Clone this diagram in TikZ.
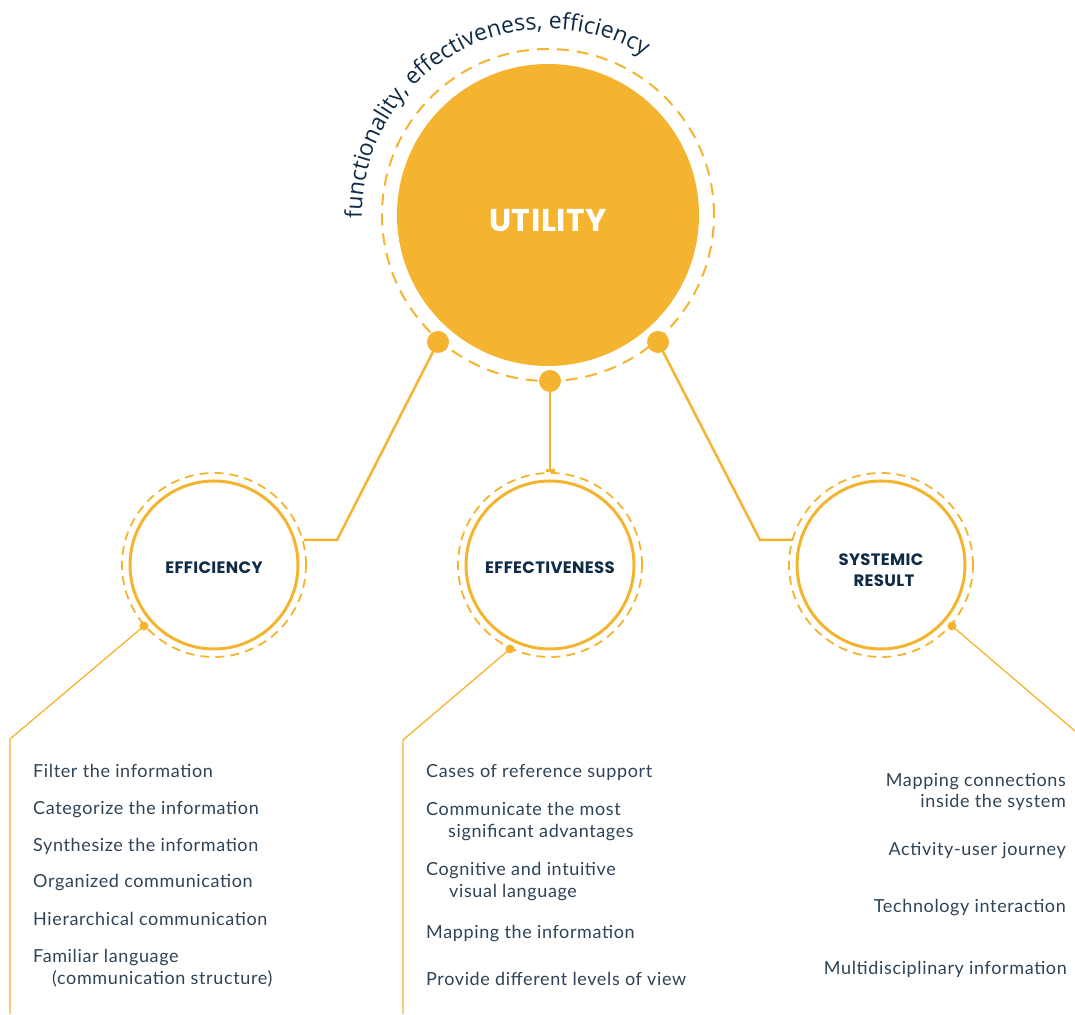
\documentclass[tikz,border=0pt]{standalone}
\usepackage{fontspec}
\setmainfont{Lato}
\newfontfamily\itemfont{Lato}[LetterSpace=3.5]
\newfontfamily\labelfont{Poppins}[LetterSpace=2]
\newfontfamily\arcfont{Open Sans}
\usetikzlibrary{decorations.text,arrows.meta}
\definecolor{gold}{HTML}{F5B430}
\definecolor{navy}{HTML}{0F2B45}
\definecolor{listc}{HTML}{2D4357}
\begin{document}
\begin{tikzpicture}[x=1pt,y=1pt,
  ring/.style={draw=gold,line width=2pt,dash pattern=on 12pt off 8pt},
  smallring/.style={draw=gold,line width=1.8pt,dash pattern=on 9pt off 6pt},
  topic/.style={circle,draw=gold,line width=3pt,minimum size=168pt,inner sep=0pt},
  topictext/.style={font=\labelfont\bfseries\fontsize{16.5}{21}\selectfont,text=navy,inner sep=0pt,anchor=base},
  bigdot/.style={circle,fill=gold,minimum size=22pt,inner sep=0pt},
  smalldot/.style={circle,fill=gold,minimum size=9pt,inner sep=0pt},
  link/.style={draw=gold,line width=2.5pt},
  leader/.style={draw=gold,line width=1.3pt},
  item/.style={font=\itemfont\fontsize{18}{21}\selectfont,text=listc,inner sep=0pt}
]
\useasboundingbox (0,0) rectangle (1075,1014);

% central circle
\node[circle,fill=gold,minimum size=302pt,inner sep=0pt] (util) at (548,799) {};
\node[font=\labelfont\bfseries\fontsize{31.5}{31.5}\selectfont,text=white,inner sep=0pt,anchor=base] (utiltxt) at (548,782) {UTILITY};
\draw[ring] (util.center) circle[radius=166];

% arc text
\path[decorate,decoration={text along path,text align=left,
  text={|\arcfont\fontsize{23}{23}\selectfont\color{navy}|functionality, effectiveness, efficiency}}]
  (util.center) ++(181:186) arc[start angle=181,end angle=5,radius=186];

% connector dots
\node[bigdot] (d1) at (438,672) {};
\node[bigdot] (d2) at (550,633) {};
\node[bigdot] (d3) at (658,672) {};

% topic circles
\node[topic] (effi) at (214,449) {};
\node[topic] (effe) at (550,449) {};
\node[topic] (syst) at (881,449) {};
\draw[smallring] (effi.center) circle[radius=92];
\draw[smallring] (effe.center) circle[radius=92];
\draw[smallring] (syst.center) circle[radius=92];
\node[topictext] (effit) at (214,440) {EFFICIENCY};
\node[topictext] (effet) at (550,440) {EFFECTIVENESS};
\node[topictext] (syst1) at (881,448) {SYSTEMIC};
\node[topictext] (syst2) at (884,427) {RESULT};

% main links
\coordinate (c1) at (337,474);
\coordinate (c1e) at (304,474);
\coordinate (t2) at (550,542);
\coordinate (c3) at (760,474);
\coordinate (c3e) at (793,474);
\draw[link] (d1.center) -- (c1) -- (c1e);
\draw[link,-{Bar[width=9pt]}] (d2.center) -- (t2);
\draw[link] (d3.center) -- (c3) -- (c3e);

% small dots and leaders
\node[smalldot] (s1) at (144,388) {};
\node[smalldot] (s2) at (510,365) {};
\node[smalldot] (s3) at (952,388) {};
\coordinate (l1) at (10,275);
\coordinate (l1b) at (10,0);
\coordinate (l2) at (403,274);
\coordinate (l2b) at (403,0);
\coordinate (l3) at (1075,283);
\draw[leader] (s1.center) -- (l1) -- (l1b);
\draw[leader] (s2.center) -- (l2) -- (l2b);
\draw[leader] (s3.center) -- (l3);

% left list
\node[item,anchor=base west] (a1) at (33,236) {Filter the information};
\node[item,anchor=base west] (a2) at (33,199) {Categorize the information};
\node[item,anchor=base west] (a3) at (33,162) {Synthesize the information};
\node[item,anchor=base west] (a4) at (33,126) {Organized communication};
\node[item,anchor=base west] (a5) at (33,89) {Hierarchical communication};
\node[item,anchor=base west] (a6) at (33,52) {Familiar language};
\node[item,anchor=base west] (a7) at (52,30) {(communication structure)};

% middle list
\node[item,anchor=base west] (b1) at (426,236) {Cases of reference support};
\node[item,anchor=base west] (b2) at (426,198) {Communicate the most};
\node[item,anchor=base west] (b3) at (448,176) {significant advantages};
\node[item,anchor=base west] (b4) at (426,138) {Cognitive and intuitive};
\node[item,anchor=base west] (b5) at (449,117) {visual language};
\node[item,anchor=base west] (b6) at (426,76) {Mapping the information};
\node[item,anchor=base west] (b7) at (426,29) {Provide different levels of view};

% right list
\node[item,anchor=base east] (r1) at (1066,227) {Mapping connections};
\node[item,anchor=base east] (r2) at (1066,206) {inside the system};
\node[item,anchor=base east] (r3) at (1066,158) {Activity-user journey};
\node[item,anchor=base east] (r4) at (1066,102) {Technology interaction};
\node[item,anchor=base east] (r5) at (1067,40) {Multidisciplinary information};
\end{tikzpicture}
\end{document}
